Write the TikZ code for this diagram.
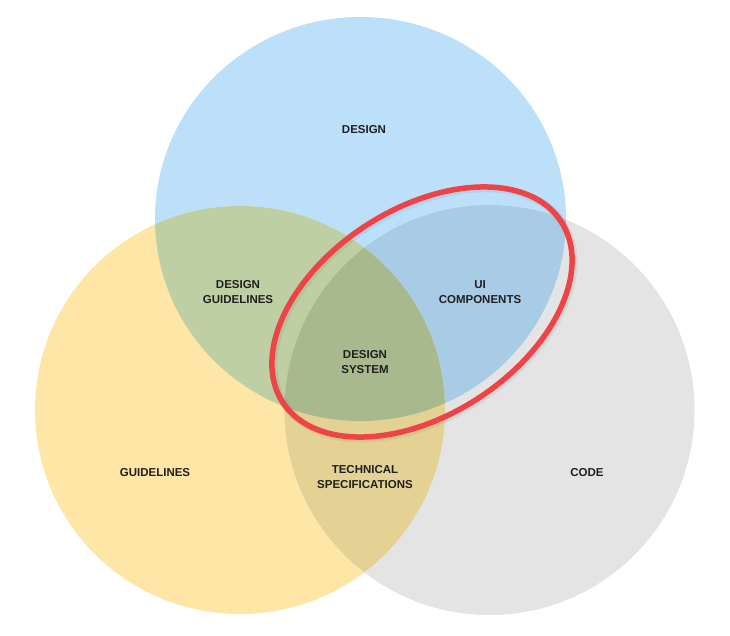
\documentclass[tikz,border=0pt]{standalone}
\usepackage{fontspec}
\setmainfont{Liberation Sans}
\begin{document}
\begin{tikzpicture}[x=1pt,y=-1pt,
  lbl/.style={font=\bfseries\fontsize{11.5}{14.5}\selectfont, text=black!88, align=center, inner sep=0pt},
  ring/.style={draw=ringred, line width=5.5pt}]
\definecolor{cblue}{HTML}{BDE0FA}
\definecolor{cyellow}{HTML}{FDE6A6}
\definecolor{cgray}{HTML}{E4E4E4}
\definecolor{cgreen}{HTML}{BECFA3}
\definecolor{cbluegray}{HTML}{A9CCE6}
\definecolor{ctech}{HTML}{E4D295}
\definecolor{ctriple}{HTML}{A9B98E}
\definecolor{ringred}{HTML}{EE4447}
\useasboundingbox (0,0) rectangle (730,636);
\fill[white] (0,0) rectangle (730,636);
\def\designpath{(360.5,219) ellipse [x radius=205.5pt, y radius=202pt]}
\def\guidepath{(240,410) ellipse [x radius=205pt, y radius=204pt]}
\def\codepath{(489.5,410) ellipse [x radius=205pt, y radius=205pt]}
\begin{scope}
  \clip (0,0) rectangle (730,614.5);
  \fill[cblue] \designpath;
  \fill[cyellow] \guidepath;
  \fill[cgray] \codepath;
  \begin{scope}
    \clip \designpath;
    \fill[cgreen] \guidepath;
  \end{scope}
  \begin{scope}
    \clip \designpath;
    \fill[cbluegray] \codepath;
  \end{scope}
  \begin{scope}
    \clip \guidepath;
    \fill[ctech] \codepath;
  \end{scope}
  \begin{scope}
    \clip \designpath;
    \clip \guidepath;
    \fill[ctriple] \codepath;
  \end{scope}
\end{scope}
% red ring with a soft shadow
\coordinate (ec) at (422,312);
\draw[black, opacity=0.06, line width=8pt, rotate around={33:(ec)}] (422.5,314) ellipse [x radius=166pt, y radius=103pt];
\draw[ring, rotate around={33:(ec)}] (ec) ellipse [x radius=166pt, y radius=103pt];
% labels
\node[lbl] (design) at (364,130) {DESIGN};
\node[lbl] (dguide) at (238,292) {DESIGN\\GUIDELINES};
\node[lbl] (uicomp) at (480,292) {UI\\COMPONENTS};
\node[lbl] (dsys) at (365,362) {DESIGN\\SYSTEM};
\node[lbl] (guide) at (155,473) {GUIDELINES};
\node[lbl] (tech) at (365,477) {TECHNICAL\\SPECIFICATIONS};
\node[lbl] (code) at (587,473) {CODE};
\end{tikzpicture}
\end{document}
